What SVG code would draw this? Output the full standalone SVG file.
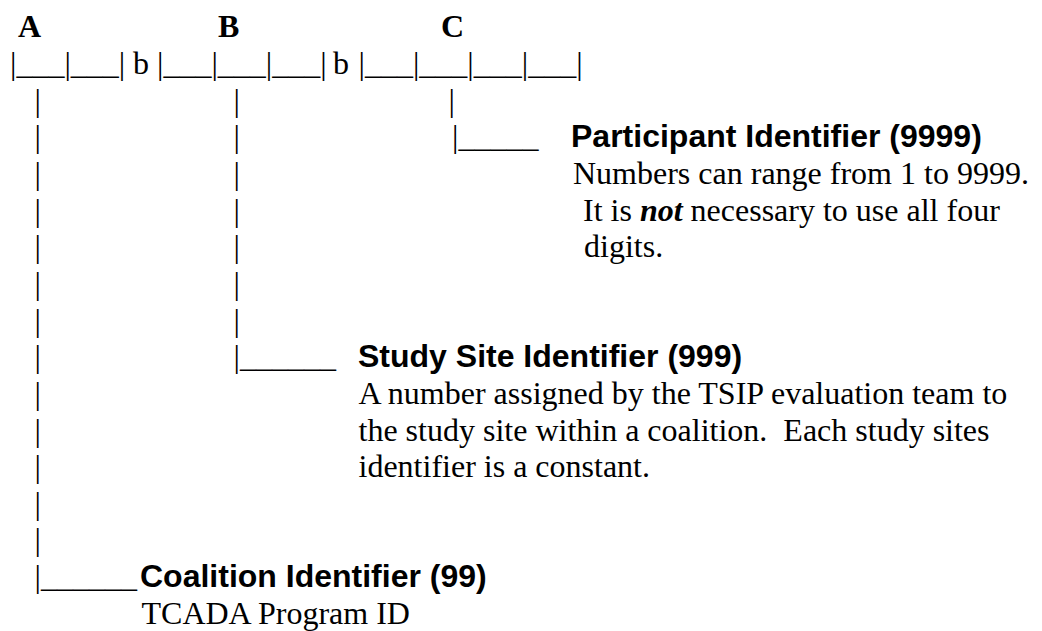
<svg xmlns="http://www.w3.org/2000/svg" width="1042" height="631" viewBox="0 0 1042 631">
<style>
  .t { font-family: "Liberation Serif", "Times New Roman", serif; font-size: 32px; fill: #000; white-space: pre; }
  .lbl { font-family: "Liberation Serif", "Times New Roman", serif; font-size: 32px; font-weight: bold; fill: #000; }
  .h { font-family: "Liberation Sans", Arial, sans-serif; font-size: 32px; font-weight: bold; fill: #000; }
  .bi { font-weight: bold; font-style: italic; }
</style>
<rect width="1042" height="631" fill="#fff"/>
<g id="field-layout">
  <text class="lbl" x="18" y="37.35">A</text>
  <text class="lbl" x="218" y="37.35">B</text>
  <text class="lbl" x="441" y="37.35">C</text>
  <text class="t" y="74"><tspan x="10">|___|___|</tspan><tspan x="133">b</tspan><tspan x="157">|___|___|___|</tspan><tspan x="333">b</tspan><tspan x="358.5">|___|___|___|___|</tspan></text>
</g>
<g id="connectors">
  <text class="t"><tspan x="34.5" y="110.65">|</tspan><tspan x="34.5" y="147.3">|</tspan><tspan x="34.5" y="183.95">|</tspan><tspan x="34.5" y="220.6">|</tspan><tspan x="34.5" y="257.25">|</tspan><tspan x="34.5" y="293.9">|</tspan><tspan x="34.5" y="330.55">|</tspan><tspan x="34.5" y="367.2">|</tspan><tspan x="34.5" y="403.85">|</tspan><tspan x="34.5" y="440.5">|</tspan><tspan x="34.5" y="477.15">|</tspan><tspan x="34.5" y="513.8">|</tspan><tspan x="34.5" y="550.45">|</tspan><tspan x="34.5" y="587.1">|______</tspan></text>
  <text class="t"><tspan x="233.5" y="110.65">|</tspan><tspan x="233.5" y="147.3">|</tspan><tspan x="233.5" y="183.95">|</tspan><tspan x="233.5" y="220.6">|</tspan><tspan x="233.5" y="257.25">|</tspan><tspan x="233.5" y="293.9">|</tspan><tspan x="233.5" y="330.55">|</tspan><tspan x="233.5" y="367.2">|______</tspan></text>
  <text class="t"><tspan x="448.5" y="110.65">|</tspan><tspan x="452" y="147.3">|_____</tspan></text>
</g>
<g id="participant">
  <text class="h" x="571" y="147.3">Participant Identifier (9999)</text>
  <text class="t" x="573" y="183.95">Numbers can range from 1 to 9999.</text>
  <text class="t" x="583" y="220.6">It is <tspan class="bi">not</tspan> necessary to use all four</text>
  <text class="t" x="584" y="257.25">digits.</text>
</g>
<g id="study-site">
  <text class="h" x="358" y="367.2">Study Site Identifier (999)</text>
  <text class="t" x="358.5" y="403.85">A number assigned by the TSIP evaluation team to</text>
  <text class="t" x="358.5" y="440.5">the study site within a coalition.  Each study sites</text>
  <text class="t" x="358.5" y="477.15">identifier is a constant.</text>
</g>
<g id="coalition">
  <text class="h" x="140" y="587.1">Coalition Identifier (99)</text>
  <text class="t" x="141.5" y="623.75">TCADA Program ID</text>
</g>
</svg>
